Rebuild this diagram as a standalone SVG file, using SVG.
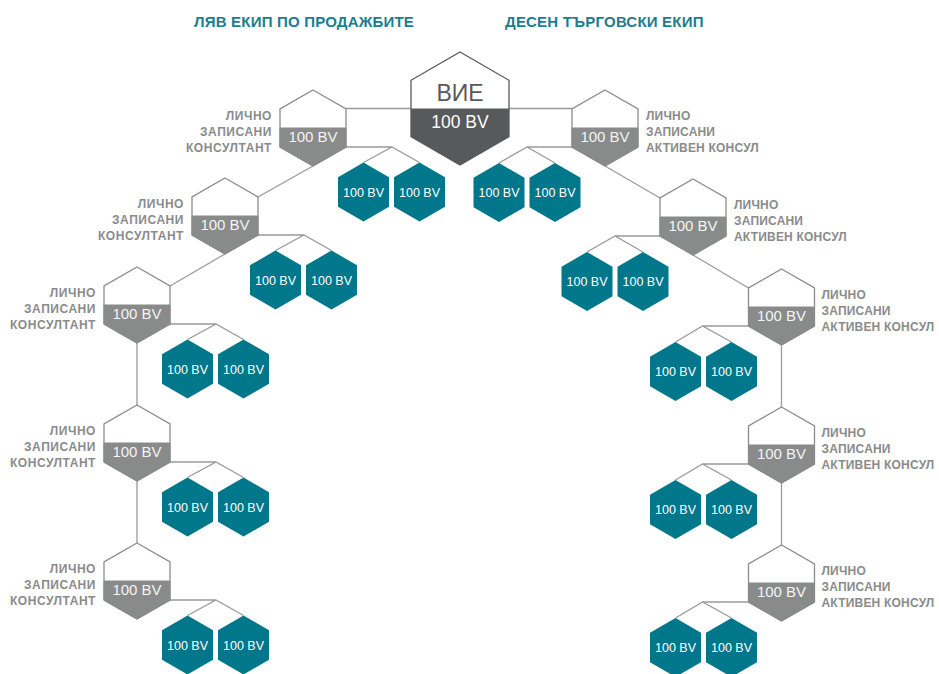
<svg xmlns="http://www.w3.org/2000/svg" xmlns:xlink="http://www.w3.org/1999/xlink" width="939" height="674" viewBox="0 0 939 674">
<style>
.hdr{font-family:"Liberation Sans",Arial,sans-serif;font-weight:bold;font-size:15px;fill:#1a7e8e;letter-spacing:0.2px}
.lbl{font-family:"Liberation Sans",Arial,sans-serif;font-weight:bold;font-size:12px;fill:#8a8b8b;letter-spacing:0.2px}
.ll{text-anchor:end;letter-spacing:0.55px}
.bv{font-family:"Liberation Sans",Arial,sans-serif;font-size:15px;fill:#f4f4f4;text-anchor:middle}
.tv{font-family:"Liberation Sans",Arial,sans-serif;font-size:12.5px;fill:#ffffff;text-anchor:middle}
.conn{fill:none;stroke:#9a9a9a;stroke-width:1.3}
.gout{fill:#ffffff;stroke:#8c8c8c;stroke-width:1.3}
.gband{fill:#898b8b;stroke:#898b8b;stroke-width:1}
.teal{fill:#00778a}
</style>
<defs>
<polygon id="gh" points="0,0 33,19 33,57 0,76 -33,57 -33,19"/>
<polygon id="gb" points="-33,38 33,38 33,57 0,76 -33,57"/>
<polygon id="th" points="0,-29.5 25.5,-14.7 25.5,14.7 0,29.5 -25.5,14.7 -25.5,-14.7"/>
</defs>

<text class="hdr" x="194" y="26.5">ЛЯВ ЕКИП ПО ПРОДАЖБИТЕ</text>
<text class="hdr" x="505" y="26.5">ДЕСЕН ТЪРГОВСКИ ЕКИП</text>

<g id="connectors" class="conn">
<path d="M346,108.5 H411"/>
<path d="M509,108.5 H572"/>
<path d="M313,166 L258,197"/>
<path d="M225,254 L170,286"/>
<path d="M137,343 V405"/>
<path d="M137,481 V543"/>
<path d="M605,166 L660,198"/>
<path d="M693,255 L748.5,288"/>
<path d="M781.5,345 V407"/>
<path d="M781.5,483 V545"/>
<path d="M346,147 H392 M363.5,162.5 L392,147 L419.5,162.5"/>
<path d="M258,235 H304 M275.5,250.5 L304,235 L331.5,250.5"/>
<path d="M170,324 H216 M187.5,339.5 L216,324 L243.5,339.5"/>
<path d="M170,462 H216 M187.5,477.5 L216,462 L243.5,477.5"/>
<path d="M170,600 H216 M187.5,615.5 L216,600 L243.5,615.5"/>
<path d="M572,147 H527 M499,163 L527,147 L555,163"/>
<path d="M660,236 H615 M587,252 L615,236 L643,252"/>
<path d="M748.5,326 H702.5 M675.5,342 L702.5,326 L731.5,342"/>
<path d="M748.5,464 H702.5 M675.5,480 L702.5,464 L731.5,480"/>
<path d="M748.5,602 H702.5 M675.5,618 L702.5,602 L731.5,618"/>
</g>

<g id="you">
<polygon points="460,52 509,80.3 509,136.7 460,165 411,136.7 411,80.3" fill="#ffffff" stroke="#58595b" stroke-width="1.3"/>
<polygon points="411,108.5 509,108.5 509,136.7 460,165 411,136.7" fill="#58595b"/>
<text x="460" y="101" font-family="Liberation Sans, Arial, sans-serif" font-size="23" fill="#58595b" text-anchor="middle">ВИЕ</text>
<text x="460" y="128" font-family="Liberation Sans, Arial, sans-serif" font-size="17.5" fill="#ffffff" text-anchor="middle">100 BV</text>
</g>

<g id="L1" transform="translate(313,90)">
<use href="#gh" class="gout"/><use href="#gb" class="gband"/>
<text class="bv" x="0" y="52">100 BV</text>
<text class="lbl ll" x="-41" y="29.5">ЛИЧНО</text><text class="lbl ll" x="-41" y="45.5">ЗАПИСАНИ</text><text class="lbl ll" x="-41" y="61.5">КОНСУЛТАНТ</text>
</g>
<g id="L2" transform="translate(225,178)">
<use href="#gh" class="gout"/><use href="#gb" class="gband"/>
<text class="bv" x="0" y="52">100 BV</text>
<text class="lbl ll" x="-41" y="29.5">ЛИЧНО</text><text class="lbl ll" x="-41" y="45.5">ЗАПИСАНИ</text><text class="lbl ll" x="-41" y="61.5">КОНСУЛТАНТ</text>
</g>
<g id="L3" transform="translate(137,267)">
<use href="#gh" class="gout"/><use href="#gb" class="gband"/>
<text class="bv" x="0" y="52">100 BV</text>
<text class="lbl ll" x="-41" y="29.5">ЛИЧНО</text><text class="lbl ll" x="-41" y="45.5">ЗАПИСАНИ</text><text class="lbl ll" x="-41" y="61.5">КОНСУЛТАНТ</text>
</g>
<g id="L4" transform="translate(137,405)">
<use href="#gh" class="gout"/><use href="#gb" class="gband"/>
<text class="bv" x="0" y="52">100 BV</text>
<text class="lbl ll" x="-41" y="29.5">ЛИЧНО</text><text class="lbl ll" x="-41" y="45.5">ЗАПИСАНИ</text><text class="lbl ll" x="-41" y="61.5">КОНСУЛТАНТ</text>
</g>
<g id="L5" transform="translate(137,543)">
<use href="#gh" class="gout"/><use href="#gb" class="gband"/>
<text class="bv" x="0" y="52">100 BV</text>
<text class="lbl ll" x="-41" y="29.5">ЛИЧНО</text><text class="lbl ll" x="-41" y="45.5">ЗАПИСАНИ</text><text class="lbl ll" x="-41" y="61.5">КОНСУЛТАНТ</text>
</g>

<g id="R1" transform="translate(605,90)">
<use href="#gh" class="gout"/><use href="#gb" class="gband"/>
<text class="bv" x="0" y="52">100 BV</text>
<text class="lbl" x="41" y="29.5">ЛИЧНО</text><text class="lbl" x="41" y="45.5">ЗАПИСАНИ</text><text class="lbl" x="41" y="61.5">АКТИВЕН КОНСУЛ</text>
</g>
<g id="R2" transform="translate(693,179)">
<use href="#gh" class="gout"/><use href="#gb" class="gband"/>
<text class="bv" x="0" y="52">100 BV</text>
<text class="lbl" x="41" y="29.5">ЛИЧНО</text><text class="lbl" x="41" y="45.5">ЗАПИСАНИ</text><text class="lbl" x="41" y="61.5">АКТИВЕН КОНСУЛ</text>
</g>
<g id="R3" transform="translate(781.5,269)">
<use href="#gh" class="gout"/><use href="#gb" class="gband"/>
<text class="bv" x="0" y="52">100 BV</text>
<text class="lbl" x="40" y="29.5">ЛИЧНО</text><text class="lbl" x="40" y="45.5">ЗАПИСАНИ</text><text class="lbl" x="40" y="61.5">АКТИВЕН КОНСУЛ</text>
</g>
<g id="R4" transform="translate(781.5,407)">
<use href="#gh" class="gout"/><use href="#gb" class="gband"/>
<text class="bv" x="0" y="52">100 BV</text>
<text class="lbl" x="40" y="29.5">ЛИЧНО</text><text class="lbl" x="40" y="45.5">ЗАПИСАНИ</text><text class="lbl" x="40" y="61.5">АКТИВЕН КОНСУЛ</text>
</g>
<g id="R5" transform="translate(781.5,545)">
<use href="#gh" class="gout"/><use href="#gb" class="gband"/>
<text class="bv" x="0" y="52">100 BV</text>
<text class="lbl" x="40" y="29.5">ЛИЧНО</text><text class="lbl" x="40" y="45.5">ЗАПИСАНИ</text><text class="lbl" x="40" y="61.5">АКТИВЕН КОНСУЛ</text>
</g>

<g id="L1a" transform="translate(363.5,192)"><use href="#th" class="teal"/><text class="tv" x="0" y="4.5">100 BV</text></g>
<g id="L1b" transform="translate(419.5,192)"><use href="#th" class="teal"/><text class="tv" x="0" y="4.5">100 BV</text></g>
<g id="L2a" transform="translate(275.5,280)"><use href="#th" class="teal"/><text class="tv" x="0" y="4.5">100 BV</text></g>
<g id="L2b" transform="translate(331.5,280)"><use href="#th" class="teal"/><text class="tv" x="0" y="4.5">100 BV</text></g>
<g id="L3a" transform="translate(187.5,369)"><use href="#th" class="teal"/><text class="tv" x="0" y="4.5">100 BV</text></g>
<g id="L3b" transform="translate(243.5,369)"><use href="#th" class="teal"/><text class="tv" x="0" y="4.5">100 BV</text></g>
<g id="L4a" transform="translate(187.5,507)"><use href="#th" class="teal"/><text class="tv" x="0" y="4.5">100 BV</text></g>
<g id="L4b" transform="translate(243.5,507)"><use href="#th" class="teal"/><text class="tv" x="0" y="4.5">100 BV</text></g>
<g id="L5a" transform="translate(187.5,645)"><use href="#th" class="teal"/><text class="tv" x="0" y="4.5">100 BV</text></g>
<g id="L5b" transform="translate(243.5,645)"><use href="#th" class="teal"/><text class="tv" x="0" y="4.5">100 BV</text></g>

<g id="R1a" transform="translate(499,192.5)"><use href="#th" class="teal"/><text class="tv" x="0" y="4.5">100 BV</text></g>
<g id="R1b" transform="translate(555,192.5)"><use href="#th" class="teal"/><text class="tv" x="0" y="4.5">100 BV</text></g>
<g id="R2a" transform="translate(587,281.5)"><use href="#th" class="teal"/><text class="tv" x="0" y="4.5">100 BV</text></g>
<g id="R2b" transform="translate(643,281.5)"><use href="#th" class="teal"/><text class="tv" x="0" y="4.5">100 BV</text></g>
<g id="R3a" transform="translate(675.5,371.5)"><use href="#th" class="teal"/><text class="tv" x="0" y="4.5">100 BV</text></g>
<g id="R3b" transform="translate(731.5,371.5)"><use href="#th" class="teal"/><text class="tv" x="0" y="4.5">100 BV</text></g>
<g id="R4a" transform="translate(675.5,509.5)"><use href="#th" class="teal"/><text class="tv" x="0" y="4.5">100 BV</text></g>
<g id="R4b" transform="translate(731.5,509.5)"><use href="#th" class="teal"/><text class="tv" x="0" y="4.5">100 BV</text></g>
<g id="R5a" transform="translate(675.5,647.5)"><use href="#th" class="teal"/><text class="tv" x="0" y="4.5">100 BV</text></g>
<g id="R5b" transform="translate(731.5,647.5)"><use href="#th" class="teal"/><text class="tv" x="0" y="4.5">100 BV</text></g>
</svg>
